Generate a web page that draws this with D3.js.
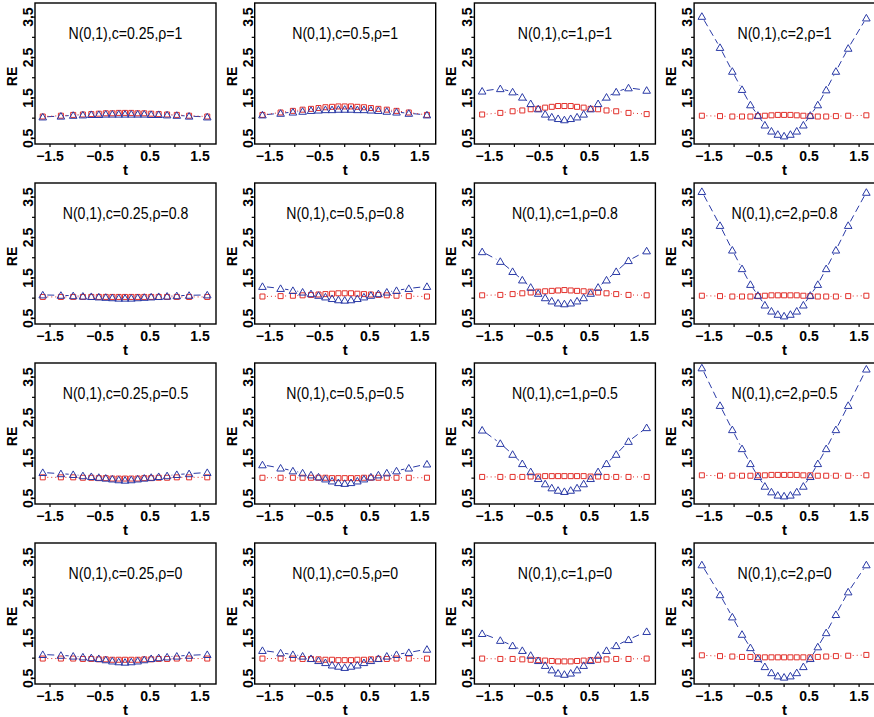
<!DOCTYPE html>
<html>
<head>
<meta charset="utf-8">
<script src="https://cdn.jsdelivr.net/npm/d3@7"></script>
<style>
  html, body { margin: 0; padding: 0; background: #ffffff; }
  svg { display: block; }
  text { font-family: "Liberation Sans", Arial, Helvetica, sans-serif; fill: #000; }
</style>
</head>
<body>
<svg id="chart" width="874" height="717"></svg>
<script>
// Evaluation points: standard normal quantiles at 0.05, 0.10, ..., 0.95
const tValues = [-1.645, -1.282, -1.036, -0.842, -0.674, -0.524, -0.385, -0.253, -0.126, 0,
                 0.126, 0.253, 0.385, 0.524, 0.674, 0.842, 1.036, 1.282, 1.645];

const cLabels = ["0.25", "0.5", "1", "2"];
const rhoLabels = ["1", "0.8", "0.5", "0"];

const xTicks = [-1.5, -1, -0.5, 0, 0.5, 1, 1.5];
const xTickLabels = ["\u22121.5", "", "\u22120.5", "", "0.5", "", "1.5"];
const yTicks = [0.5, 1, 1.5, 2, 2.5, 3, 3.5];
const yTickLabels = ["0.5", "", "1.5", "", "2.5", "", "3.5"];

// Relative efficiency, triangle series (blue), one list per c within each rho row
const triRho1 = [
  [1.03,1.05,1.07,1.08,1.09,1.09,1.10,1.10,1.10,1.10,1.10,1.10,1.10,1.09,1.09,1.08,1.07,1.05,1.03],
  [1.08,1.12,1.15,1.17,1.19,1.20,1.21,1.21,1.22,1.22,1.22,1.21,1.21,1.20,1.19,1.17,1.15,1.12,1.08],
  [1.67,1.73,1.65,1.52,1.36,1.23,1.10,1.03,0.99,0.96,0.99,1.03,1.10,1.23,1.36,1.52,1.65,1.75,1.69],
  [3.52,2.75,2.16,1.71,1.33,1.07,0.83,0.68,0.60,0.56,0.60,0.68,0.83,1.07,1.33,1.70,2.16,2.73,3.48]
];
const triRho08 = [
  [1.08,1.07,1.06,1.05,1.04,1.03,1.02,1.01,1.00,1.00,1.00,1.01,1.02,1.03,1.04,1.05,1.06,1.07,1.08],
  [1.29,1.24,1.19,1.15,1.11,1.07,1.03,0.99,0.96,0.95,0.96,0.99,1.03,1.07,1.11,1.15,1.19,1.24,1.29],
  [2.15,1.91,1.66,1.45,1.27,1.12,1.01,0.93,0.88,0.86,0.88,0.93,1.01,1.12,1.27,1.45,1.66,1.93,2.17],
  [3.64,2.80,2.19,1.73,1.34,1.07,0.83,0.68,0.60,0.56,0.60,0.68,0.83,1.07,1.34,1.73,2.19,2.80,3.62]
];
const triRho05 = [
  [1.14,1.11,1.09,1.06,1.04,1.02,1.00,0.98,0.96,0.95,0.96,0.98,1.00,1.02,1.04,1.06,1.09,1.11,1.14],
  [1.33,1.25,1.18,1.13,1.08,1.03,0.98,0.93,0.89,0.87,0.89,0.93,0.98,1.03,1.08,1.13,1.18,1.25,1.35],
  [2.19,1.86,1.59,1.36,1.16,0.99,0.86,0.76,0.70,0.67,0.70,0.76,0.86,0.99,1.16,1.36,1.59,1.91,2.25],
  [3.73,2.80,2.20,1.73,1.36,1.04,0.80,0.66,0.58,0.56,0.58,0.66,0.80,1.04,1.36,1.73,2.20,2.80,3.70]
];
const triRho0 = [
  [1.09,1.07,1.05,1.03,1.01,0.99,0.96,0.93,0.91,0.90,0.91,0.93,0.96,0.99,1.01,1.03,1.05,1.07,1.09],
  [1.19,1.13,1.09,1.05,0.99,0.94,0.89,0.83,0.80,0.77,0.80,0.83,0.89,0.94,0.99,1.05,1.09,1.14,1.22],
  [1.61,1.44,1.31,1.19,1.07,0.94,0.82,0.71,0.63,0.60,0.63,0.71,0.82,0.94,1.07,1.19,1.31,1.46,1.66],
  [3.31,2.57,2.02,1.59,1.26,0.99,0.79,0.64,0.56,0.53,0.56,0.64,0.79,0.99,1.28,1.63,2.08,2.64,3.31]
];

// Relative efficiency, square series (red)
const sqRho1 = [
  [1.04,1.06,1.08,1.09,1.10,1.11,1.12,1.12,1.13,1.13,1.13,1.12,1.12,1.11,1.10,1.09,1.08,1.06,1.04],
  [1.08,1.14,1.18,1.21,1.23,1.25,1.27,1.28,1.29,1.29,1.29,1.28,1.27,1.25,1.23,1.21,1.18,1.14,1.08],
  [1.09,1.13,1.17,1.19,1.22,1.23,1.26,1.28,1.30,1.30,1.30,1.28,1.26,1.23,1.22,1.19,1.17,1.13,1.10],
  [1.06,1.05,1.04,1.04,1.04,1.05,1.06,1.07,1.08,1.08,1.08,1.07,1.06,1.05,1.04,1.04,1.05,1.06,1.07]
];
const sqRho08 = [
  [1.03,1.03,1.03,1.03,1.03,1.03,1.03,1.03,1.03,1.03,1.03,1.03,1.03,1.03,1.03,1.03,1.03,1.03,1.03],
  [1.04,1.05,1.06,1.07,1.08,1.09,1.10,1.11,1.12,1.12,1.12,1.11,1.10,1.09,1.08,1.07,1.06,1.05,1.04],
  [1.07,1.08,1.10,1.12,1.14,1.16,1.17,1.18,1.19,1.20,1.19,1.18,1.17,1.16,1.14,1.12,1.10,1.08,1.07],
  [1.06,1.05,1.04,1.04,1.04,1.05,1.06,1.07,1.07,1.07,1.07,1.07,1.06,1.05,1.04,1.04,1.04,1.05,1.06]
];
const sqRho05 = [
  [1.02,1.02,1.02,1.01,1.01,1.00,1.00,0.99,0.99,0.99,0.99,0.99,1.00,1.00,1.01,1.01,1.02,1.02,1.02],
  [1.01,1.01,1.01,1.01,1.01,1.01,1.01,1.00,1.00,1.00,1.00,1.00,1.01,1.01,1.01,1.01,1.01,1.01,1.01],
  [1.03,1.03,1.03,1.03,1.04,1.04,1.05,1.05,1.05,1.05,1.05,1.05,1.05,1.04,1.04,1.03,1.03,1.03,1.03],
  [1.07,1.06,1.06,1.06,1.06,1.07,1.07,1.08,1.08,1.08,1.08,1.08,1.07,1.07,1.06,1.06,1.06,1.06,1.07]
];
const sqRho0 = [
  [0.99,0.99,0.99,0.98,0.98,0.97,0.97,0.96,0.96,0.96,0.96,0.96,0.97,0.97,0.98,0.98,0.99,0.99,0.99],
  [0.99,0.99,0.99,0.98,0.98,0.97,0.96,0.96,0.95,0.95,0.95,0.96,0.96,0.97,0.98,0.98,0.99,0.99,0.99],
  [0.99,0.98,0.98,0.97,0.96,0.95,0.94,0.93,0.92,0.92,0.92,0.93,0.94,0.95,0.96,0.97,0.98,0.98,0.99],
  [1.07,1.05,1.04,1.03,1.03,1.02,1.02,1.02,1.02,1.02,1.02,1.02,1.02,1.02,1.03,1.04,1.05,1.06,1.08]
];

const triRows = [triRho1, triRho08, triRho05, triRho0];
const sqRows = [sqRho1, sqRho08, sqRho05, sqRho0];

// Panel geometry
const panelLeft0 = 35, panelTop0 = 3;
const colStep = 219.7, rowStep = 180;
const panelW = 181, panelH = 141;

const blue = "#2a3aa6";
const red = "#e2302b";

const svg = d3.select("#chart");

const x = d3.scaleLinear().domain([-1.8, 1.82]).range([0, panelW]);
const y = d3.scaleLinear().domain([0.36, 3.85]).range([panelH, 0]);

const triSym = d3.symbol().type(d3.symbolTriangle).size(25);
const sqSym = d3.symbol().type(d3.symbolSquare).size(25);

// Line segments between consecutive points, trimmed so they stop short of the markers
function gappedSegments(vals, gap) {
  const segs = [];
  for (let i = 0; i < vals.length - 1; i++) {
    const x1 = x(tValues[i]), y1 = y(vals[i]);
    const x2 = x(tValues[i + 1]), y2 = y(vals[i + 1]);
    const dx = x2 - x1, dy = y2 - y1;
    const len = Math.hypot(dx, dy);
    if (len <= 2 * gap) continue;
    const ux = dx / len, uy = dy / len;
    segs.push([x1 + ux * gap, y1 + uy * gap, x2 - ux * gap, y2 - uy * gap]);
  }
  return segs;
}

rhoLabels.forEach((rho, r) => {
  cLabels.forEach((c, ci) => {
    const g = svg.append("g")
      .attr("transform", `translate(${panelLeft0 + ci * colStep},${panelTop0 + r * rowStep})`);

    const tri = triRows[r][ci];
    const sq = sqRows[r][ci];

    // x axis ticks and labels
    const xa = g.append("g").attr("transform", `translate(0,${panelH})`);
    xa.selectAll("line").data(xTicks).join("line")
      .attr("x1", d => x(d)).attr("x2", d => x(d))
      .attr("y1", 0).attr("y2", 3)
      .attr("stroke", "#000").attr("stroke-width", 1.2);
    xa.selectAll("text").data(xTicks).join("text")
      .attr("x", d => x(d)).attr("y", 16.5)
      .attr("text-anchor", "middle")
      .attr("font-size", 14).attr("font-weight", "bold")
      .text((d, i) => xTickLabels[i]);

    // y axis ticks and labels
    const ya = g.append("g");
    ya.selectAll("line").data(yTicks).join("line")
      .attr("x1", -3).attr("x2", 0)
      .attr("y1", d => y(d)).attr("y2", d => y(d))
      .attr("stroke", "#000").attr("stroke-width", 1.2);
    ya.selectAll("text").data(yTicks).join("text")
      .attr("transform", d => `translate(-2,${y(d)}) rotate(-90)`)
      .attr("text-anchor", "middle")
      .attr("font-size", 14).attr("font-weight", "bold")
      .text((d, i) => yTickLabels[i]);

    // axis titles
    g.append("text")
      .attr("x", panelW / 2).attr("y", panelH + 31)
      .attr("text-anchor", "middle")
      .attr("font-size", 15).attr("font-weight", "bold")
      .text("t");
    g.append("text")
      .attr("transform", `translate(-18,${panelH / 2 + 3}) rotate(-90)`)
      .attr("text-anchor", "middle")
      .attr("font-size", 14).attr("font-weight", "bold")
      .text("RE");

    // connecting lines
    g.selectAll("line.tri").data(gappedSegments(tri, 4.5)).join("line")
      .attr("class", "tri")
      .attr("x1", d => d[0]).attr("y1", d => d[1])
      .attr("x2", d => d[2]).attr("y2", d => d[3])
      .attr("stroke", blue).attr("stroke-width", 1)
      .attr("stroke-dasharray", "7,4");
    g.selectAll("line.sq").data(gappedSegments(sq, 4.5)).join("line")
      .attr("class", "sq")
      .attr("x1", d => d[0]).attr("y1", d => d[1])
      .attr("x2", d => d[2]).attr("y2", d => d[3])
      .attr("stroke", red).attr("stroke-width", 1)
      .attr("stroke-dasharray", "1,3");

    // markers
    g.selectAll("path.sq").data(sq).join("path")
      .attr("class", "sq")
      .attr("transform", (d, i) => `translate(${x(tValues[i])},${y(d)})`)
      .attr("d", sqSym)
      .attr("fill", "none").attr("stroke", red).attr("stroke-width", 1);
    g.selectAll("path.tri").data(tri).join("path")
      .attr("class", "tri")
      .attr("transform", (d, i) => `translate(${x(tValues[i])},${y(d) + 0.8})`)
      .attr("d", triSym)
      .attr("fill", "none").attr("stroke", blue).attr("stroke-width", 1);

    // panel title
    g.append("text")
      .attr("transform", `translate(${panelW / 2},36) scale(0.83,1)`)
      .attr("text-anchor", "middle")
      .attr("font-size", 17)
      .text(`N(0,1),c=${c},\u03c1=${rho}`);

    // frame
    g.append("rect")
      .attr("x", 0).attr("y", 0)
      .attr("width", panelW).attr("height", panelH)
      .attr("fill", "none").attr("stroke", "#000").attr("stroke-width", 1.4);
  });
});
</script>
</body>
</html>
